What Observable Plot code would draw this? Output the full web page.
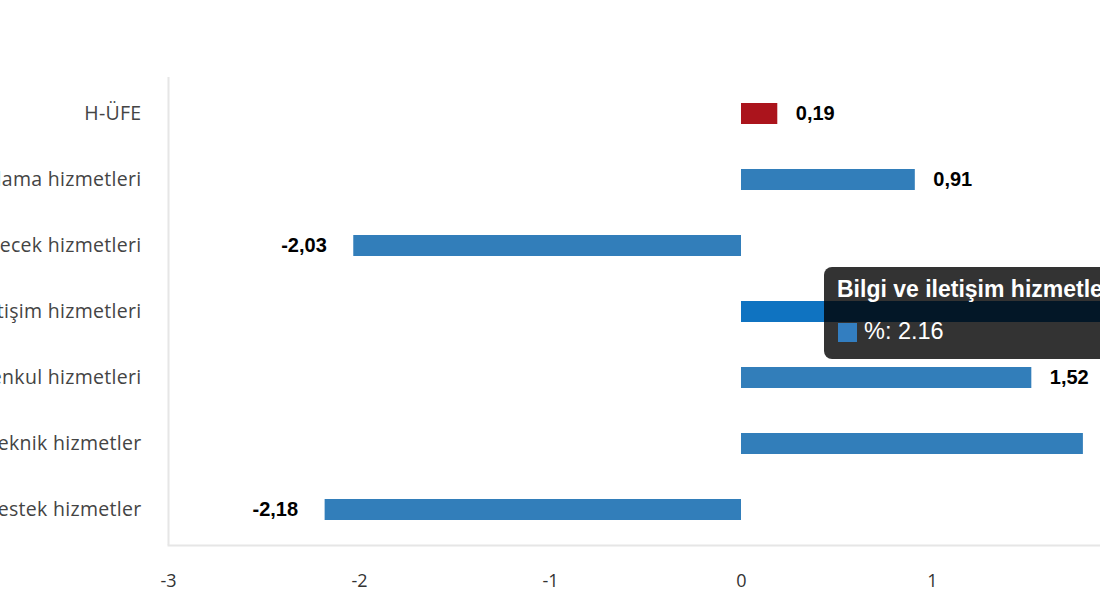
<!DOCTYPE html>
<html>
<head>
<meta charset="utf-8">
<script src="https://cdn.jsdelivr.net/npm/d3@7"></script>
<script src="https://cdn.jsdelivr.net/npm/@observablehq/plot@0.6"></script>
<style>
  html, body { margin: 0; padding: 0; background: #fff; }
  #wrap { position: relative; width: 1100px; height: 600px; overflow: hidden; }
  #wrap svg { position: absolute; left: -150px; top: 0; max-width: none !important; }
  #wrap svg g[aria-label="y-axis tick label"] text { letter-spacing: 0.3px; }
  #tip {
    position: absolute; width: 330px; height: 92px; border-radius: 8px;
    background: rgba(0,0,0,0.8); color: #fff; font-family: "Liberation Sans", Arial, sans-serif;
  }
  #tip .t { position: absolute; left: 13px; top: 9px; font-size: 23px; font-weight: bold; white-space: nowrap; }
  #tip .sw { position: absolute; left: 14px; top: 56px; width: 19px; height: 19px; }
  #tip .v { position: absolute; left: 40px; top: 51px; font-size: 23.5px; white-space: nowrap; }
</style>
</head>
<body>
<div id="wrap"></div>
<script>
const categories = [
  "H-ÜFE",
  "Ulaştırma ve depolama hizmetleri",
  "Konaklama ve yiyecek hizmetleri",
  "Bilgi ve iletişim hizmetleri",
  "Gayrimenkul hizmetleri",
  "Mesleki, bilimsel ve teknik hizmetler",
  "İdari ve destek hizmetler"
];
const values = [0.19, 0.91, -2.03, 2.16, 1.52, 1.79, -2.18];
const barColors = ["#ab141c", "#327eba", "#327eba", "#0f73c1", "#327eba", "#327eba", "#327eba"];
const xTicks = [-3, -2, -1, 0, 1, 2, 3];
const hovered = "Bilgi ve iletişim hizmetleri";
const seriesName = "%";

const data = categories.map((c, i) => ({cat: c, v: values[i], color: barColors[i]}));
const fmt = v => v.toFixed(2).replace(".", ",");
const labelFont = "'Liberation Sans', Arial, sans-serif";

const plot = Plot.plot({
  width: 1500,
  height: 600,
  marginLeft: 318,
  marginRight: 36,
  marginTop: 77,
  marginBottom: 55,
  style: {fontFamily: "'Open Sans', sans-serif", background: "#fff", maxWidth: "none"},
  x: {domain: [-3, 3], ticks: xTicks},
  y: {domain: categories, paddingInner: 0.685, paddingOuter: 0.344},
  marks: [
    Plot.barX(data, {x: "v", y: "cat", fill: "color"}),
    Plot.ruleX([-3], {stroke: "#e6e6e6", strokeWidth: 2}),
    Plot.frame({anchor: "bottom", stroke: "#e6e6e6", strokeWidth: 2}),
    Plot.text(data.filter(d => d.v >= 0), {
      x: "v", y: "cat", text: d => fmt(d.v),
      dx: 18, fontWeight: "bold", fontSize: 20, fill: "#000",
      fontFamily: labelFont, textAnchor: "start"
    }),
    Plot.text(data.filter(d => d.v < 0), {
      x: "v", y: "cat", text: d => fmt(d.v),
      dx: -27, fontWeight: "bold", fontSize: 20, fill: "#000",
      fontFamily: labelFont, textAnchor: "end"
    }),
    Plot.axisX({ticks: xTicks, tickSize: 0, tickPadding: 29, fontSize: 18, fill: "#333", label: null, tickFormat: d => String(d)}),
    Plot.axisY({tickSize: 0, tickPadding: 27, fontSize: 19.5, fill: "#444", label: null})
  ]
});
document.getElementById("wrap").appendChild(plot);

(function(){
  const x = plot.scale("x"), y = plot.scale("y");
  const offset = -150;
  const tip = document.createElement("div");
  tip.id = "tip";
  const xi = categories.indexOf(hovered);
  tip.style.left = (x.apply(0) + offset + 83) + "px";
  tip.style.top = (y.apply(hovered) + y.bandwidth / 2 - 45) + "px";
  tip.innerHTML = `<div class="t">${hovered}</div><div class="sw" style="background:#337ec0"></div><div class="v">${seriesName}: ${values[xi]}</div>`;
  document.getElementById("wrap").appendChild(tip);
})();
</script>
</body>
</html>
